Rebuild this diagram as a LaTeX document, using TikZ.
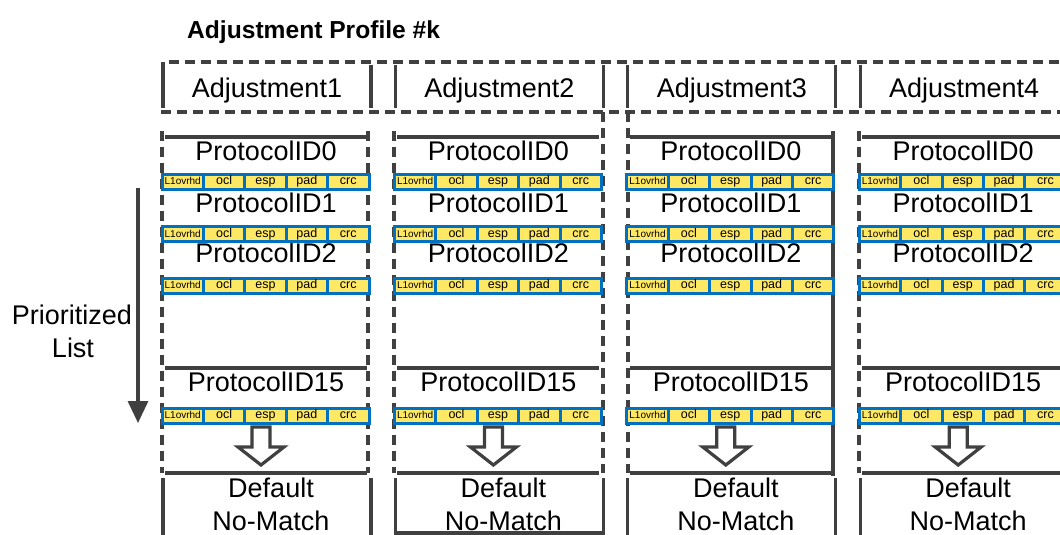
\documentclass[tikz,border=0pt]{standalone}
\usepackage{fontspec}
\setmainfont{Liberation Sans}
\usetikzlibrary{arrows.meta}
\definecolor{barblue}{RGB}{0,112,192}
\definecolor{baryellow}{RGB}{255,232,100}
\definecolor{linegray}{RGB}{64,64,64}

\begin{document}
\begin{tikzpicture}[x=1pt, y=-1pt,
            frame/.style={draw=linegray, line width=3.2pt},
            dashframe/.style={frame, dash pattern=on 10pt off 6pt},
            big/.style={font=\fontsize{27}{30}\selectfont, inner sep=0pt, anchor=base},
            cell/.style={draw=barblue, fill=baryellow, line width=3pt, minimum width=41.4pt,
                minimum height=15pt, inner sep=0pt, text height=8.5pt, text depth=2.5pt,
                font=\fontsize{12.5}{12}\selectfont}]
            \fill[white] (0,0) rectangle (1060,535);
            \useasboundingbox (0,0) rectangle (1060,535);
            \clip (0,0) rectangle (1060,535);
            \node[font=\bfseries\fontsize{24.6}{28}\selectfont, inner sep=0pt, anchor=base west] (title) at (187,39) {Adjustment Profile \#k};
            \draw[dashframe] (1075,62) -- (163,62) -- (163,112) -- (1075,112);
            \draw[dashframe] (162,131) -- (162,473);
            \draw[dashframe] (368,131) -- (368,473);
            \draw[dashframe] (394,131) -- (394,473);
            \draw[dashframe] (603,112) -- (603,473);
            \draw[dashframe] (628,112) -- (628,473);
            \draw[frame] (833,131) -- (833,476);
            \draw[dashframe] (859,131) -- (859,473);
            \foreach \i in {1,2,3,4} {
                \pgfmathsetmacro{\L}{163+232.4*(\i-1)}
                \draw[frame] (\L,65) -- (\L,108) (\L+208,65) -- (\L+208,108);
                \node[big] (adj\i) at (\L+104,97) {Adjustment\i};
                \draw[frame] (\L+2,137) -- (\L+204,137) (\L+2,368) -- (\L+204,368) (\L+2,473) -- (\L+204,473);
                \foreach \p/\y in {0/160,1/212,2/262,15/391}
                    \node[big] (pid\i-\p) at (\L+103,\y) {ProtocolID\p};
                \foreach [count=\b] \y in {181.5,234,285.5,415.5}
                    \foreach [count=\j] \t in {{\fontsize{10}{10}\selectfont L1ovrhd},ocl,esp,pad,crc}
                        \node[cell] (c\i-\b-\j) at (\L-21.7+41.4*\j,\y) {\t};
                \draw[frame, fill=white, line join=miter] (\L+89,427) -- (\L+107,427) -- (\L+107,447) -- (\L+121,447)
                    -- (\L+98,465) -- (\L+75,447) -- (\L+89,447) -- cycle;
                \draw[frame] (\L,478) -- (\L,545) (\L+208,478) -- (\L+208,545);
                \node[big] (def\i) at (\L+108,497) {Default};
                \node[big] (nom\i) at (\L+108,530) {No-Match};
            }
            \draw[frame] (395.4,533) -- (603.4,533);
            \node[big] (prio) at (72,324) {Prioritized};
            \node[big] (list) at (73,357) {List};
            \coordinate (ptop) at (138,188);
            \coordinate (pbot) at (138,423);
            \draw[frame, -{Triangle[width=20pt,length=22pt]}] (ptop) -- (pbot);
        \end{tikzpicture}
\end{document}
